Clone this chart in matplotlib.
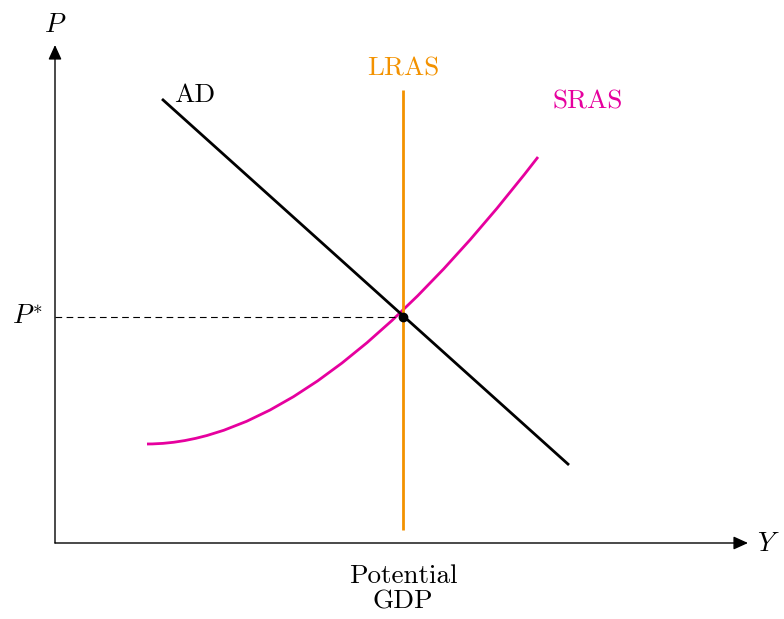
import numpy as np
import matplotlib
matplotlib.use("Agg")
import matplotlib.pyplot as plt
from matplotlib.path import Path
from matplotlib.patches import PathPatch

plt.rcParams['font.family'] = 'serif'
plt.rcParams['font.serif'] = ['cmr10']
plt.rcParams['mathtext.fontset'] = 'cm'
plt.rcParams['axes.formatter.use_mathtext'] = True

# Curves (axis origin at 0,0)
ad_x = [1.07, 5.14]
ad_y = [4.44, 0.78]
lras_x = [3.48, 3.48]
lras_y = [0.13, 4.53]
# SRAS: start, control point, end of a quadratic curve
sras_x = [0.92, 2.62, 4.83]
sras_y = [0.99, 0.99, 3.86]
eq_x, eq_y = 3.48, 2.26

orange = '#F39200'
pink = '#E6009E'

fig = plt.figure(figsize=(7.84, 6.19), dpi=100)
ax = fig.add_axes([0, 0, 1, 1])
ax.set_xlim(-0.55, 7.29)
ax.set_ylim(-0.76, 5.43)
ax.axis('off')

# axes with arrows
arrow = dict(arrowstyle='-|>,head_length=0.55,head_width=0.25', color='black',
             lw=1.0, mutation_scale=16, shrinkA=0, shrinkB=0)
ax.annotate('', xy=(6.93, 0), xytext=(0, 0), arrowprops=arrow)
ax.annotate('', xy=(0, 4.98), xytext=(0, 0), arrowprops=arrow)

# dashed guide
ax.plot([0, eq_x], [eq_y, eq_y], color='black', lw=0.8, ls=(0, (6, 4)))

# curves
ax.plot(lras_x, lras_y, color=orange, lw=2.0, solid_capstyle='butt')
sras = Path(list(zip(sras_x, sras_y)), [Path.MOVETO, Path.CURVE3, Path.CURVE3])
ax.add_patch(PathPatch(sras, facecolor='none', edgecolor=pink, lw=2.0,
                       capstyle='butt'))
ax.plot(ad_x, ad_y, color='black', lw=2.0, solid_capstyle='butt')
ax.plot([eq_x], [eq_y], 'o', color='black', markersize=6)

fs = 19.5
ax.text(1.40, 4.48, 'AD', fontsize=fs, ha='center', va='center')
ax.text(3.48, 4.74, 'LRAS', fontsize=fs, ha='center', va='center', color=orange)
ax.text(5.33, 4.41, 'SRAS', fontsize=fs, ha='center', va='center', color=pink)
ax.text(0, 5.18, r'$P$', fontsize=fs, ha='center', va='center')
ax.text(7.13, -0.01, r'$Y$', fontsize=fs, ha='center', va='center')
ax.text(-0.12, eq_y, r'$P^{*}$', fontsize=fs, ha='right', va='center')
ax.text(3.48, -0.46, 'Potential\nGDP', fontsize=fs, ha='center', va='center',
        linespacing=1.12)

fig.savefig('out.png', dpi=100)
